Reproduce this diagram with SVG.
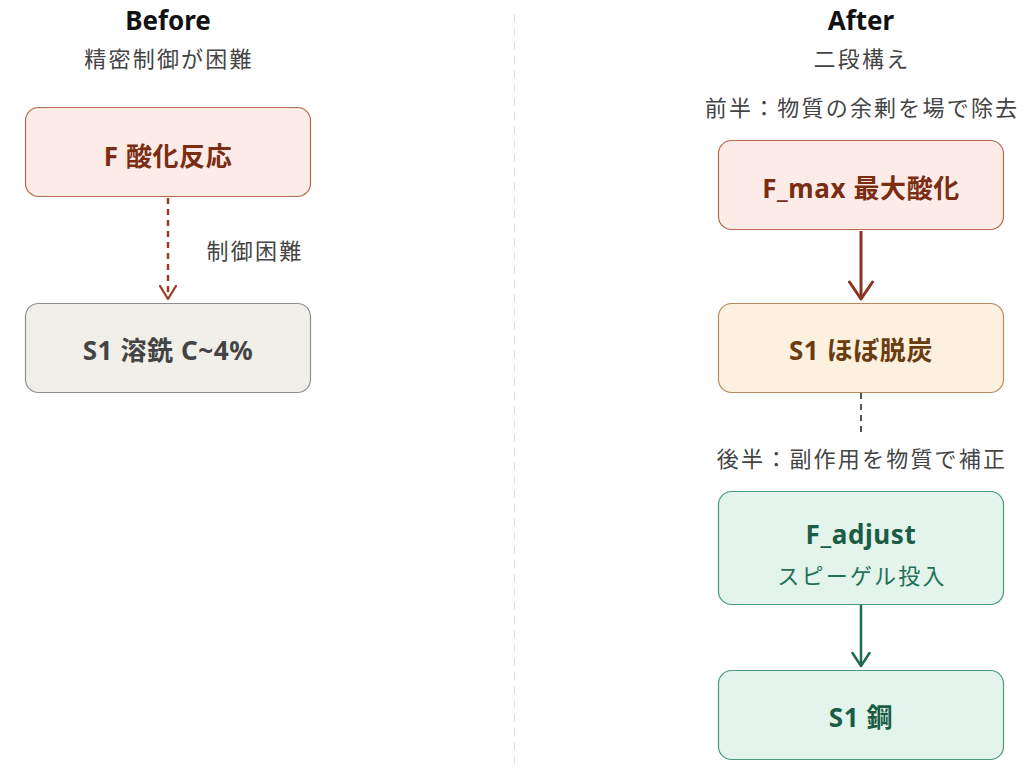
<svg xmlns="http://www.w3.org/2000/svg" width="1031" height="779" viewBox="0 0 1031 779">
<style>
text{font-family:"Noto Sans","Noto Sans CJK JP",sans-serif;text-anchor:middle;dominant-baseline:central}
.title{font-size:26px;font-weight:bold;fill:#111}
.sub{font-size:22px;fill:#444;letter-spacing:2.2px}
.nt{font-size:26px;font-weight:bold;letter-spacing:0.6px}
.box{stroke-width:1.2}
.red{fill:#fcebe6;stroke:#b46a4e}
.gray{fill:#f0efe9;stroke:#8f8f8f}
.amber{fill:#fcf0de;stroke:#b98a5b}
.green{fill:#e3f4ed;stroke:#4c9b7c}
</style>
<defs>
<marker id="ah-red" viewBox="0 0 18 20" refX="15" refY="10" markerWidth="18" markerHeight="20" markerUnits="userSpaceOnUse" orient="auto">
<path d="M2,2 L15,10 L2,18" fill="none" stroke="#9a3a20" stroke-width="2.2" stroke-linecap="round" stroke-linejoin="round"/>
</marker>
<marker id="ah-red2" viewBox="0 0 22 28" refX="19" refY="14" markerWidth="22" markerHeight="28" markerUnits="userSpaceOnUse" orient="auto">
<path d="M2,2.5 L19,14 L2,25.5" fill="none" stroke="#8b3520" stroke-width="3" stroke-linecap="round" stroke-linejoin="round"/>
</marker>
<marker id="ah-green" viewBox="0 0 18 21" refX="15" refY="10.5" markerWidth="18" markerHeight="21" markerUnits="userSpaceOnUse" orient="auto">
<path d="M2,2 L15,10.5 L2,19" fill="none" stroke="#1f6b4e" stroke-width="2.5" stroke-linecap="round" stroke-linejoin="round"/>
</marker>
</defs>
<rect width="1031" height="779" fill="#ffffff"/>
<line x1="514.5" y1="14" x2="514.5" y2="766" stroke="#dddddd" stroke-width="1" stroke-dasharray="8 6"/>
<g id="headers">
<text class="title" x="168" y="20">Before</text>
<text class="sub" x="169" y="58">精密制御が困難</text>
<text class="title" x="861" y="20">After</text>
<text class="sub" x="862" y="58">二段構え</text>
<text class="sub" x="862" y="107">前半：物質の余剰を場で除去</text>
<text class="sub" x="862" y="458">後半：副作用を物質で補正</text>
</g>
<g id="connectors">
<line x1="168" y1="198" x2="168" y2="299" stroke="#9a3a20" stroke-width="2.5" stroke-dasharray="6 5" marker-end="url(#ah-red)"/>
<text class="sub" x="255" y="250">制御困難</text>
<line x1="861" y1="231" x2="861" y2="299" stroke="#8b3520" stroke-width="3" marker-end="url(#ah-red2)"/>
<line x1="861" y1="393" x2="861" y2="432" stroke="#555" stroke-width="2" stroke-dasharray="6 5"/>
<line x1="861" y1="605" x2="861" y2="666" stroke="#1f6b4e" stroke-width="2.5" marker-end="url(#ah-green)"/>
</g>
<g id="node-f">
<rect class="box red" x="25.5" y="107.5" width="285" height="89" rx="13"/>
<text class="nt" x="168" y="156" fill="#7a2d12">F 酸化反応</text>
</g>
<g id="node-s1-before">
<rect class="box gray" x="25.5" y="303.5" width="285" height="89" rx="13"/>
<text class="nt" x="168" y="350" fill="#444">S1 溶銑 C~4%</text>
</g>
<g id="node-fmax">
<rect class="box red" x="718.5" y="140.5" width="285" height="89" rx="13"/>
<text class="nt" x="861" y="188" fill="#7a2d12">F_max 最大酸化</text>
</g>
<g id="node-s1-decarb">
<rect class="box amber" x="718.5" y="303.5" width="285" height="89" rx="13"/>
<text class="nt" x="861" y="350" fill="#6a3d10">S1 ほぼ脱炭</text>
</g>
<g id="node-fadjust">
<rect class="box green" x="718.5" y="491.5" width="285" height="113" rx="13"/>
<text class="nt" x="861" y="534" fill="#1a5c44">F_adjust</text>
<text class="sub" x="862" y="575" fill="#237055" style="fill:#237055">スピーゲル投入</text>
</g>
<g id="node-s1-steel">
<rect class="box green" x="718.5" y="670.5" width="285" height="89" rx="13"/>
<text class="nt" x="861" y="717" fill="#1a5c44">S1 鋼</text>
</g>
</svg>
